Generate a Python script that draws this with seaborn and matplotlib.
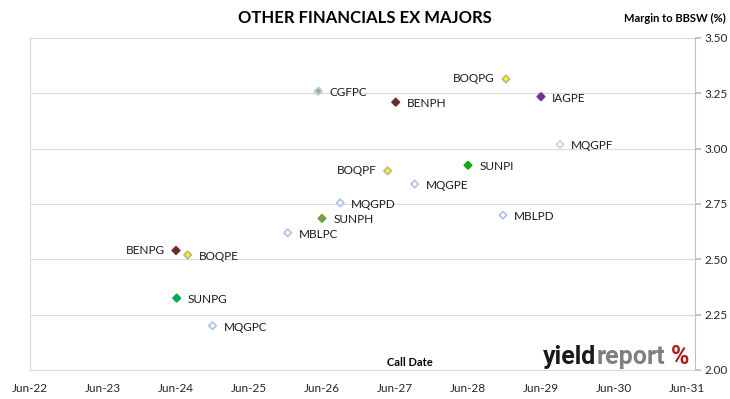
import pandas as pd
import matplotlib.pyplot as plt
import seaborn as sns

# security, call date (decimal year), margin to BBSW (%)
names = ["CGFPC", "BENPH", "BOQPG", "IAGPE", "MQGPF", "SUNPI", "BOQPF", "MQGPE",
         "MQGPD", "SUNPH", "MBLPC", "MBLPD", "BENPG", "BOQPE", "SUNPG", "MQGPC"]
call_year = [2026.45, 2027.51, 2029.02, 2029.50, 2029.76, 2028.50, 2027.40, 2027.77,
             2026.75, 2026.50, 2026.03, 2028.98, 2024.50, 2024.66, 2024.51, 2025.00]
margin = [3.26, 3.21, 3.315, 3.235, 3.02, 2.925, 2.90, 2.84,
          2.755, 2.685, 2.62, 2.70, 2.54, 2.52, 2.325, 2.20]
label_side = ["r", "r", "l", "r", "r", "r", "l", "r",
              "r", "r", "r", "r", "l", "r", "r", "r"]

x_ticks = [2022.5 + i for i in range(10)]
x_tick_labels = ["Jun-22", "Jun-23", "Jun-24", "Jun-25", "Jun-26",
                 "Jun-27", "Jun-28", "Jun-29", "Jun-30", "Jun-31"]
y_ticks = [2.00, 2.25, 2.50, 2.75, 3.00, 3.25, 3.50]

# marker fill / edge colours per security
fill = {"CGFPC": "#93A9B3", "BENPH": "#6B2B2B", "BOQPG": "#FFFF00", "IAGPE": "#7030A0",
        "MQGPF": "#FFFFFF", "SUNPI": "#16A816", "BOQPF": "#FFFF00", "MQGPE": "#FFFFFF",
        "MQGPD": "#FFFFFF", "SUNPH": "#6FA33F", "MBLPC": "#FFFFFF", "MBLPD": "#FFFFFF",
        "BENPG": "#6B2B2B", "BOQPE": "#FFFF00", "SUNPG": "#00A650", "MQGPC": "#FFFFFF"}
edge = {"CGFPC": "#B7C9D3", "BENPH": "#6B2B2B", "BOQPG": "#B9B98C", "IAGPE": "#7030A0",
        "MQGPF": "#C9D5EC", "SUNPI": "#16A816", "BOQPF": "#B9B98C", "MQGPE": "#B4C5E4",
        "MQGPD": "#B4C5E4", "SUNPH": "#6FA33F", "MBLPC": "#B4C5E4", "MBLPD": "#B4C5E4",
        "BENPG": "#6B2B2B", "BOQPE": "#B9B98C", "SUNPG": "#00A650", "MQGPC": "#B4C5E4"}

df = pd.DataFrame({"name": names, "call": call_year, "margin": margin, "side": label_side})

sns.set_theme(style="white")
plt.rcParams["font.family"] = ["Lato", "DejaVu Sans"]

fig = plt.figure(figsize=(7.3, 3.99), dpi=100)
ax = fig.add_axes([30 / 730, 1 - 370 / 399, 665 / 730, 332 / 399])

sns.scatterplot(data=df, x="call", y="margin", hue="name", palette=fill,
                marker="D", s=14, linewidth=1.3, legend=False, ax=ax)
ax.collections[0].set_edgecolor([edge[n] for n in df["name"]])

for _, r in df.iterrows():
    if r["side"] == "r":
        ax.annotate(r["name"], (r["call"], r["margin"]), xytext=(8, -1),
                    textcoords="offset points", ha="left", va="center",
                    fontsize=8.5, color="#1a1a1a")
    else:
        ax.annotate(r["name"], (r["call"], r["margin"]), xytext=(-8, 0),
                    textcoords="offset points", ha="right", va="center",
                    fontsize=8.5, color="#1a1a1a")

ax.set_xlim(2022.5, 2022.5 + 665 / 73)
ax.set_ylim(2.0, 3.5)
ax.set_xticks(x_ticks)
ax.set_xticklabels(x_tick_labels, fontsize=8.5)
ax.set_yticks(y_ticks)
ax.set_yticklabels([f"{v:.2f}" for v in y_ticks], fontsize=8.5)
ax.yaxis.tick_right()
ax.tick_params(axis="y", which="both", right=True, length=4, color="#BFBFBF", pad=3)
ax.tick_params(axis="x", length=0, pad=9)
ax.set_xlabel("")
ax.set_ylabel("")
ax.grid(axis="y", color="#D9D9D9", linewidth=0.8)
ax.set_axisbelow(True)
for side in ["left", "bottom"]:
    ax.spines[side].set_color("#D9D9D9")
    ax.spines[side].set_linewidth(0.8)
ax.spines["right"].set_color("#BFBFBF")
ax.spines["right"].set_linewidth(0.8)
ax.spines["top"].set_visible(False)

fig.text(0.5, 1 - 18 / 399, "OTHER FINANCIALS EX MAJORS", ha="center", va="center",
         fontsize=12, fontweight="bold", color="black")
fig.text(726 / 730, 1 - 18 / 399, "Margin to BBSW (%)", ha="right", va="center",
         fontsize=8, fontweight="bold", color="black")
fig.text(410 / 730, 1 - 362 / 399, "Call Date", ha="center", va="center",
         fontsize=8, fontweight="bold", color="black")

# yieldreport logo
logo_font = dict(family=["Roboto", "DejaVu Sans"], fontsize=18, fontweight="bold")
t1 = fig.text(543 / 730, 1 - 364 / 399, "yield", ha="left", va="baseline",
              color="#1a1a1a", **logo_font)
t2 = ax.annotate("report", xy=(1, 0), xycoords=t1, xytext=(0.5, 0),
                 textcoords="offset points", ha="left", va="bottom",
                 color="#808080", **logo_font)
ax.annotate("%", xy=(1, 0), xycoords=t2, xytext=(4, 0),
            textcoords="offset points", ha="left", va="bottom",
            color="#B01818", **logo_font)

fig.savefig("out.png", dpi=100)
